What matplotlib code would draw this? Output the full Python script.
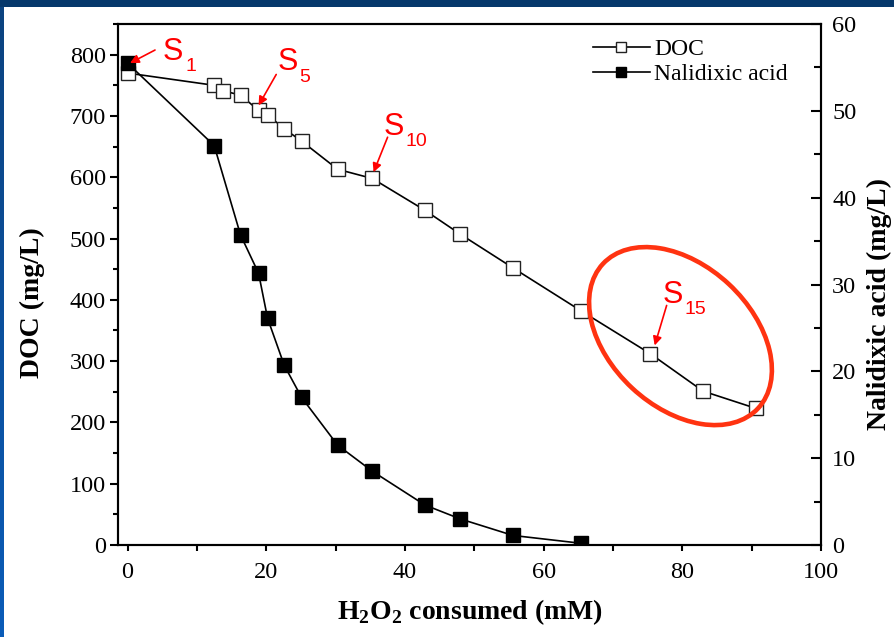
import numpy as np
import matplotlib
matplotlib.use("Agg")
import matplotlib.pyplot as plt
from matplotlib.patches import Ellipse, Rectangle
from matplotlib.lines import Line2D
from matplotlib.ticker import MultipleLocator
import matplotlib.transforms as mtransforms

# H2O2 consumed (mM) and measured DOC (mg/L) for each sample
h2o2_doc = [0, 12.5, 13.8, 16.3, 18.9, 20.2, 22.6, 25.1, 30.3, 35.3,
            42.9, 48.0, 55.6, 65.4, 75.4, 83.0, 90.6]
doc = [770, 750, 741, 734, 709, 702, 679, 659, 613, 598,
       546, 507, 452, 382, 312, 251, 223]

# nalidixic acid (mg/L), measured on the first 13 samples (sample 3 skipped)
h2o2_nal = [0, 12.5, 16.3, 18.9, 20.2, 22.6, 25.1, 30.3, 35.3,
            42.9, 48.0, 55.6, 65.4]
nalidixic = [55.5, 46.0, 35.7, 31.3, 26.1, 20.7, 17.0, 11.5, 8.5,
             4.6, 3.0, 1.1, 0.2]

# sample numbers that get an "S_n" callout (index into the DOC series)
callout_samples = [5, 10, 15]

plt.rcParams['font.family'] = ['Liberation Serif', 'DejaVu Serif']
plt.rcParams['mathtext.fontset'] = 'custom'
plt.rcParams['mathtext.rm'] = 'Liberation Serif'
plt.rcParams['mathtext.bf'] = 'Liberation Serif:bold'

fig = plt.figure(figsize=(8.95, 6.37), dpi=100)
ax = fig.add_axes([0.1324, 0.1444, 0.7849, 0.8179])
ax2 = ax.twinx()

ax.plot(h2o2_doc, doc, color='black', lw=1.2, marker='s', ms=10.5,
        mfc='white', mec='#222222', mew=1.0, zorder=3)
ax2.plot(h2o2_nal, nalidixic, color='black', lw=1.2, marker='s', ms=10.5,
         mfc='black', mec='black', zorder=3)

ax.set_xlim(-1.3, 100)
ax.set_ylim(0, 850)
ax2.set_ylim(0, 60)

ax.xaxis.set_major_locator(MultipleLocator(20))
ax.xaxis.set_minor_locator(MultipleLocator(10))
ax.yaxis.set_major_locator(MultipleLocator(100))
ax.yaxis.set_minor_locator(MultipleLocator(50))
ax2.yaxis.set_major_locator(MultipleLocator(10))
ax2.yaxis.set_minor_locator(MultipleLocator(5))

for a in (ax, ax2):
    for sp in a.spines.values():
        sp.set_linewidth(1.5)

ax.tick_params(axis='y', which='major', direction='out', length=6, width=1.5,
               pad=3, labelsize=17.5)
ax.tick_params(axis='y', which='minor', direction='out', length=3.6, width=1.5)
ax.tick_params(axis='x', which='major', direction='out', length=4.5, width=1.5,
               pad=8, labelsize=17.5)
ax.tick_params(axis='x', which='minor', direction='out', length=4, width=1.5)
ax2.tick_params(axis='y', which='major', direction='in', length=7.5, width=1.5,
                pad=8, labelsize=17.5)
ax2.tick_params(axis='y', which='minor', direction='in', length=4.8, width=1.5)

ax.set_xlabel(r'H$_\mathbf{2}$O$_\mathbf{2}$ consumed (mM)', fontsize=20,
              fontweight='bold')
ax.set_ylabel('DOC (mg/L)', fontsize=20, fontweight='bold')
ax2.set_ylabel('Nalidixic acid (mg/L)', fontsize=20, fontweight='bold')
ax.xaxis.set_label_coords(0.5, -0.10)
ax.yaxis.set_label_coords(-0.1046, 0.465)
ax2.yaxis.set_label_coords(1.0655, 0.4635)

handles = [
    Line2D([], [], color='black', lw=1.2, marker='s', ms=7.5,
           mfc='white', mec='#222222', mew=1.0),
    Line2D([], [], color='black', lw=1.2, marker='s', ms=7.5,
           mfc='black', mec='black'),
]
ax2.legend(handles, ['DOC', 'Nalidixic acid'], loc='upper left',
           bbox_to_anchor=(0.6754, 0.972), frameon=False, fontsize=17,
           handlelength=2.4, handletextpad=0.2, labelspacing=0.15,
           borderpad=0, borderaxespad=0)

# red "S_n" callouts with arrows
red = '#ff0000'
sans = ['Liberation Sans', 'DejaVu Sans']
arrow = dict(arrowstyle='-|>', color=red, lw=1.2, mutation_scale=13,
             shrinkA=0, shrinkB=0)


def callout_arrow(axis, xy, head, tail):
    head_xy = mtransforms.offset_copy(axis.transData, fig=fig,
                                      x=head[0], y=head[1], units='points')
    axis.annotate('', xy=xy, xycoords=head_xy,
                  xytext=(tail[0] - head[0], tail[1] - head[1]),
                  textcoords='offset points', arrowprops=arrow)


def callout_text(axis, xy, sub, text_off):
    axis.annotate('S', xy=xy, xytext=text_off, textcoords='offset points',
                  color=red, fontsize=22, family=sans, ha='left',
                  va='baseline')
    axis.annotate(sub, xy=xy,
                  xytext=(text_off[0] + 15.8, text_off[1] - 8),
                  textcoords='offset points', color=red, fontsize=14,
                  family=sans, ha='left', va='baseline')


# S1 points at the first nalidixic acid sample
p1 = (h2o2_nal[0], nalidixic[0])
callout_arrow(ax2, p1, (1.8, 0), (19.8, 9.4))
callout_text(ax2, p1, '1', (25.6, 2.2))

offsets = {
    5: ((0, 3.6), (12.7, 25.9), (13.5, 28.8)),
    10: ((0.9, 4.5), (11, 29.7), (8.1, 31.2)),
    15: ((3.1, 6.0), (11.7, 34.8), (8.9, 36.9)),
}
for n in callout_samples:
    p = (h2o2_doc[n - 1], doc[n - 1])
    head, tail, text_off = offsets[n]
    callout_arrow(ax, p, head, tail)
    callout_text(ax, p, str(n), text_off)

# highlight ring round the last samples
ring_trans = fig.dpi_scale_trans + mtransforms.ScaledTranslation(
    0.800, 0.401, ax.transAxes)
ax2.add_patch(Ellipse((0, 0), 2.12, 1.42, angle=-43, transform=ring_trans,
                      fill=False, ec='#ff3311', lw=3.3, zorder=5,
                      clip_on=False))

# slide frame: navy band on top, blue strip on the left
fig.add_artist(Rectangle((0, 1 - 7 / 637), 1, 7 / 637,
                         transform=fig.transFigure, color='#06386b', lw=0))
strip = fig.add_axes([0, 0, 3.5 / 895, 1 - 7 / 637])
strip.imshow(np.linspace(0, 1, 64).reshape(-1, 1), aspect='auto',
             cmap=matplotlib.colors.LinearSegmentedColormap.from_list(
                 'frame', ['#0c4380', '#0a5cb8']))
strip.axis('off')

fig.savefig('out.png', dpi=100)
